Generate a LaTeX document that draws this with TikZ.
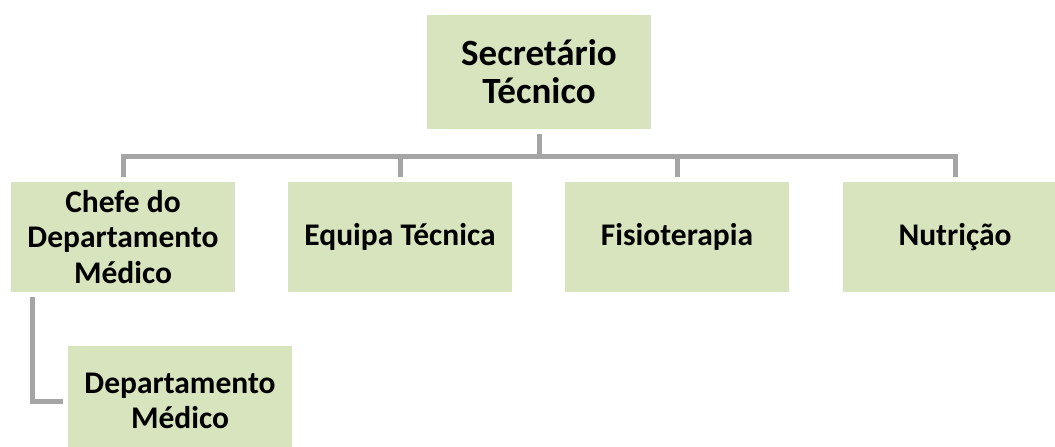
\documentclass[tikz,border=0pt]{standalone}
\usepackage{fontspec}
\setmainfont{Carlito}
\definecolor{boxgreen}{HTML}{D7E4BD}
\definecolor{linegray}{HTML}{A5A5A5}
\tikzset{
    cargo/.style={fill=boxgreen, minimum width=224pt, minimum height=110pt,
        align=center, font=\fontsize{31.5}{35.5}\selectfont\bfseries, inner sep=0pt},
    chefia/.style={cargo, minimum height=114pt, font=\fontsize{37}{38}\selectfont\bfseries},
    ligacao/.style={draw=linegray, line width=5pt, shorten <=5pt, shorten >=5pt}
}
\begin{document}
\begin{tikzpicture}[x=1pt, y=-1pt]
    \clip (0,0) rectangle (1055,447);
    \useasboundingbox (0,0) rectangle (1055,447);
    % Cargos
    \node[chefia] (sec) at (539, 72) {Secretário\\Técnico};
    \node[cargo] (chefe) at (123, 237) {Chefe do\\Departamento\\Médico};
    \node[cargo] (equipa) at (400, 237) {Equipa Técnica};
    \node[cargo] (fisio) at (677, 237) {Fisioterapia};
    \node[cargo] (nutri) at (955, 237) {Nutrição};
    \node[cargo] (dep) at (180, 401) {Departamento\\Médico};
    % Ligações
    \draw[ligacao] (sec.south) -- ++(0,27) -| (chefe.north);
    \draw[ligacao] (sec.south) -- ++(0,27) -| (equipa.north);
    \draw[ligacao] (sec.south) -- ++(0,27) -| (fisio.north);
    \draw[ligacao] (sec.south) -- ++(0,27) -| (nutri.north);
    \draw[ligacao] ([xshift=-91pt]chefe.south) |- (dep.west);
\end{tikzpicture}
\end{document}
